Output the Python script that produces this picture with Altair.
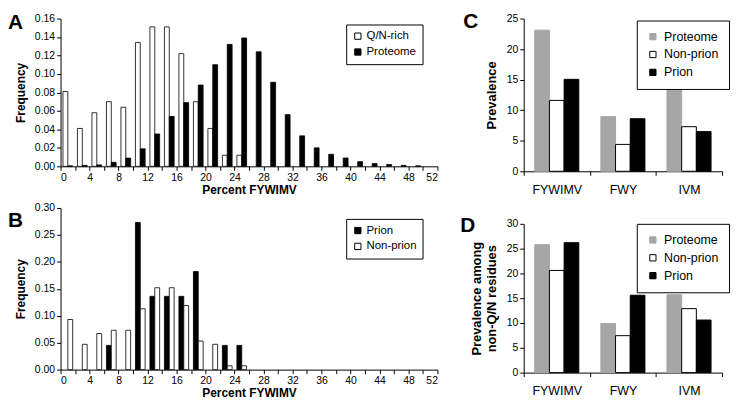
import altair as alt
import pandas as pd

FONT = "Liberation Sans"

# ---------------- data ----------------
bins = list(range(0, 52, 2))  # bin starts, Percent FYWIMV

qn_rich = [0.081, 0.041, 0.058, 0.070, 0.064, 0.134, 0.151, 0.151, 0.122, 0.070,
           0.041, 0.012, 0.012, 0, 0, 0, 0, 0, 0, 0, 0, 0, 0, 0, 0, 0]
proteome_hist = [0.0005, 0.001, 0.0015, 0.0043, 0.0089, 0.019, 0.035, 0.054, 0.069, 0.088,
                 0.110, 0.132, 0.139, 0.124, 0.091, 0.056, 0.033, 0.020, 0.013, 0.009,
                 0.005, 0.003, 0.002, 0.001, 0.0005, 0]

prion_hist = [0, 0, 0, 0.045, 0, 0.273, 0.136, 0.136, 0.136, 0.182,
              0, 0.045, 0.045, 0, 0, 0, 0, 0, 0, 0, 0, 0, 0, 0, 0, 0]
nonprion_hist = [0.093, 0.047, 0.067, 0.073, 0.073, 0.113, 0.152, 0.152, 0.119, 0.053,
                 0.047, 0.007, 0.007, 0, 0, 0, 0, 0, 0, 0, 0, 0, 0, 0, 0, 0]

categories = ["FYWIMV", "FWY", "IVM"]
groups = ["Proteome", "Non-prion", "Prion"]
prev_proteome = [23.1, 8.95, 14.2]
prev_nonprion = [11.6, 4.4, 7.3]
prev_prion = [15.05, 8.6, 6.5]

nq_proteome = [25.8, 9.9, 15.7]
nq_nonprion = [20.6, 7.45, 12.9]
nq_prion = [26.2, 15.6, 10.6]

# ---------------- helpers ----------------
legend_common = dict(
    orient="none", title=None, strokeColor="black", fillColor="white",
    cornerRadius=0, symbolType="square", symbolStrokeColor="black",
    symbolStrokeWidth=1, labelFont=FONT, labelColor="black",
)

WHITE_SERIES = ("Q/N-rich", "Non-prion")


def letter(ch, dx, dy):
    return alt.Chart(pd.DataFrame({"t": [ch]})).mark_text(
        text=ch, fontSize=21, fontWeight="bold", font=FONT, align="left",
        baseline="top", color="black"
    ).encode(x=alt.value(dx), y=alt.value(dy))


def hist_panel(s1, v1, s2, v2, ymax, ystep, w, h, lx, ly, ch, chy):
    df = pd.DataFrame({
        "bin": bins * 2,
        "freq": v1 + v2,
        "series": [s1] * len(bins) + [s2] * len(bins),
        "slot": [0] * len(bins) + [1] * len(bins),
    })
    nticks = int(round(ymax / ystep))
    yvals = [round(i * ystep, 3) for i in range(nticks + 1)]
    bars = alt.Chart(df).transform_filter("datum.freq > 0").transform_calculate(
        xa="datum.bin + 0.33 + datum.slot * 0.67",
        xb="datum.bin + 1.0 + datum.slot * 0.67",
    ).mark_bar(stroke="black", strokeWidth=0.8).encode(
        x=alt.X("xa:Q", scale=alt.Scale(domain=[0, 52], nice=False, zero=False),
                axis=alt.Axis(values=list(range(0, 53, 2)),
                              labelExpr="datum.value % 4 == 0 ? datum.label : ''",
                              title="Percent FYWIMV", titlePadding=2)),
        x2="xb:Q",
        y=alt.Y("freq:Q", scale=alt.Scale(domain=[0, ymax], nice=False),
                axis=alt.Axis(values=yvals, format=".2f", title="Frequency",
                              titlePadding=7)),
        y2=alt.datum(0),
        fill=alt.Fill("series:N",
                      scale=alt.Scale(domain=[s1, s2],
                                      range=["white" if s1 in WHITE_SERIES else "black",
                                             "white" if s2 in WHITE_SERIES else "black"]),
                      legend=alt.Legend(legendX=lx, legendY=ly, padding=6,
                                        labelFontSize=11.5, symbolSize=40,
                                        rowPadding=3, labelOffset=3, **legend_common)),
    )
    return alt.layer(bars, letter(ch, -53, chy)).properties(width=w, height=h)


def prev_panel(vals_p, vals_n, vals_r, ymax, title, h, ch, chx, chy, lx, ly):
    df = pd.DataFrame({
        "cat": categories * 3,
        "group": [groups[0]] * 3 + [groups[1]] * 3 + [groups[2]] * 3,
        "value": vals_p + vals_n + vals_r,
    })
    bars = alt.Chart(df).mark_bar(strokeWidth=1).encode(
        x=alt.X("cat:N", sort=categories,
                scale=alt.Scale(paddingInner=0, paddingOuter=0),
                axis=alt.Axis(title=None, labelAngle=0, tickBand="extent",
                              labelFontSize=12.5, labelPadding=8)),
        xOffset=alt.XOffset("group:N", sort=groups,
                            scale=alt.Scale(domain=groups, paddingOuter=0.75,
                                            paddingInner=0)),
        y=alt.Y("value:Q", scale=alt.Scale(domain=[0, ymax], nice=False),
                axis=alt.Axis(values=list(range(0, ymax + 1, 5)), title=title,
                              titleFontSize=13, titlePadding=8)),
        fill=alt.Fill("group:N", sort=groups,
                      scale=alt.Scale(domain=groups, range=["#a6a6a6", "white", "black"]),
                      legend=alt.Legend(legendX=lx, legendY=ly, padding=10,
                                        labelFontSize=12.5, symbolSize=40,
                                        rowPadding=5, labelOffset=5, **legend_common)),
        stroke=alt.Stroke("group:N", sort=groups,
                          scale=alt.Scale(domain=groups, range=["#a6a6a6", "black", "black"]),
                          legend=None),
    )
    return alt.layer(bars, letter(ch, chx, chy)).properties(width=200, height=h)


A = hist_panel("Q/N-rich", qn_rich, "Proteome", proteome_hist, 0.16, 0.02,
               380, 149, 288, 6, "A", -6)
B = hist_panel("Prion", prion_hist, "Non-prion", nonprion_hist, 0.30, 0.05,
               380, 163, 288, 11, "B", 2)
C = prev_panel(prev_proteome, prev_nonprion, prev_prion, 25, "Prevalence", 154,
               "C", -61, -7, 114, 2)
D = prev_panel(nq_proteome, nq_nonprion, nq_prion, 30,
               ["Prevalence among", "non-Q/N residues"], 150, "D", -64, -9, 114, 0)


def indep(ch):
    return ch.resolve_scale(fill="independent", stroke="independent",
                            x="independent", y="independent",
                            xOffset="independent").resolve_legend(
        fill="independent", stroke="independent")


left = indep(alt.vconcat(A, B, spacing=7))
right = indep(alt.vconcat(C, D, spacing=19))

chart = indep(alt.hconcat(left, right, spacing=22)).properties(
    padding={"left": 0, "top": 2, "right": 0, "bottom": 0}
).configure(font=FONT).configure_view(stroke=None).configure_axis(
    domainColor="black", tickColor="black", labelColor="black", titleColor="black",
    grid=False, labelFont=FONT, titleFont=FONT, labelFontSize=10.5,
    titleFontSize=12, titleFontWeight="bold", tickSize=4, labelPadding=2,
    domainWidth=1, tickWidth=1,
)

chart.save("out.html", embed_options={"renderer": "svg", "actions": False})
